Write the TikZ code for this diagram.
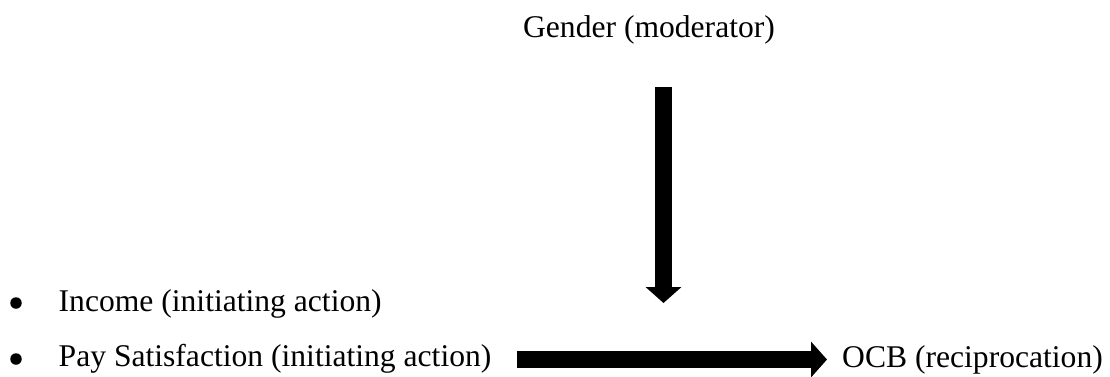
\documentclass[tikz,border=0pt]{standalone}
\usepackage{fontspec}
\setmainfont{Liberation Serif}
\usetikzlibrary{arrows.meta}
\begin{document}
\begin{tikzpicture}[x=1pt,y=-1pt,
  lbl/.style={inner sep=0pt,anchor=base west,font=\fontsize{31.6}{38}\selectfont},
  bul/.style={circle,fill=black,inner sep=0pt,minimum size=11.5pt},
  bigarrow/.style={line width=17pt,-{Triangle[width=35pt,length=16pt]}}]
\useasboundingbox (0,0) rectangle (1110,376);
\clip (0,0) rectangle (1110,376);
\node[lbl,anchor=base] (gender) at (649,37) {Gender (moderator)};
\node[bul] (b1) at (16,303) {};
\node[lbl] (income) at (58.5,311) {Income (initiating action)};
\node[bul] (b2) at (16,359) {};
\node[lbl] (pay) at (58.5,366.5) {Pay Satisfaction (initiating action)};
\node[lbl] (ocb) at (842,367) {OCB (reciprocation)};
\coordinate (vs) at (663.5,87);
\coordinate (ve) at (663.5,303);
\coordinate (hs) at (517,359.5);
\coordinate (he) at (827,359.5);
\draw[bigarrow] (vs) -- (ve);
\draw[bigarrow] (hs) -- (he);
\end{tikzpicture}
\end{document}
